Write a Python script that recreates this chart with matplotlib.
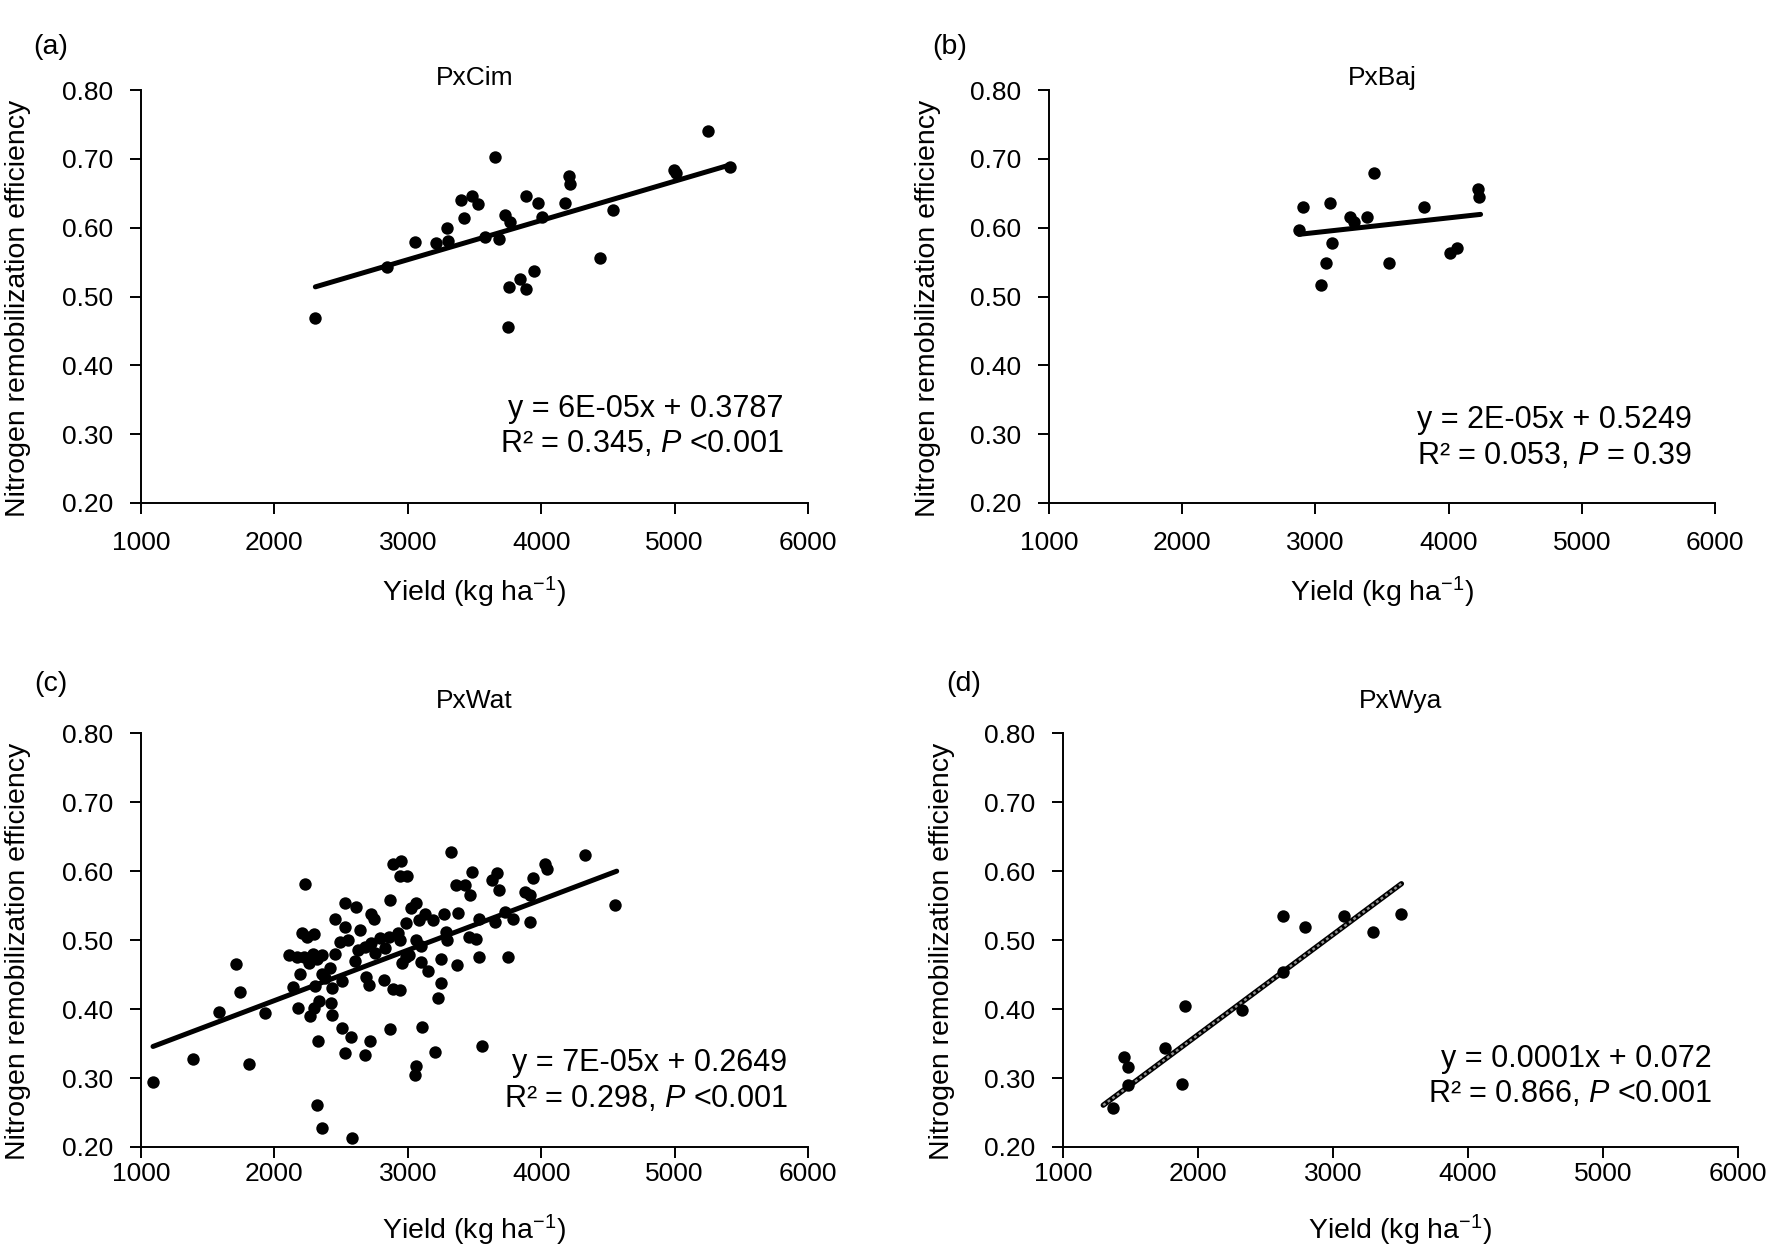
import matplotlib
matplotlib.use('Agg')
import matplotlib.pyplot as plt
import numpy as np

plt.rcParams['font.family'] = ['Liberation Sans', 'DejaVu Sans']
plt.rcParams['mathtext.fontset'] = 'custom'
plt.rcParams['mathtext.rm'] = 'Liberation Sans'
plt.rcParams['mathtext.it'] = 'Liberation Sans:italic'

# ---------------- data ----------------
panel_letters = ['(a)', '(b)', '(c)', '(d)']
panel_titles = ['PxCim', 'PxBaj', 'PxWat', 'PxWya']

cim_x = [2307, 2843, 3051, 3212, 3292, 3299, 3399, 3423, 3480, 3523, 3580, 3651,
         3681, 3728, 3768, 3761, 3748, 3842, 3885, 3885, 3949, 3979, 4006, 4180,
         4207, 4214, 4442, 4535, 4994, 5008, 5253, 5413]
cim_y = [0.469, 0.543, 0.579, 0.577, 0.600, 0.580, 0.640, 0.614, 0.646, 0.635, 0.586, 0.702,
         0.583, 0.619, 0.608, 0.514, 0.456, 0.525, 0.511, 0.646, 0.537, 0.636, 0.615, 0.636,
         0.675, 0.663, 0.556, 0.626, 0.684, 0.679, 0.741, 0.688]

baj_x = [2877, 2907, 3108, 3128, 3077, 3044, 3258, 3288, 3388, 3441, 3552, 3819,
         4013, 4060, 4223, 4227]
baj_y = [0.597, 0.630, 0.636, 0.577, 0.548, 0.517, 0.615, 0.608, 0.615, 0.679, 0.548, 0.630,
         0.563, 0.571, 0.656, 0.644]

wat_x = [1090, 1389, 1583, 1710, 1741, 1811, 1928, 2106, 2143, 2180, 2190, 2233,
         2206, 2247, 2300, 2223, 2263, 2290, 2320, 2354, 2270, 2297, 2337, 2303,
         2354, 2414, 2431, 2427, 2434, 2324, 2320, 2357, 2585, 2458, 2458, 2491,
         2505, 2505, 2531, 2528, 2551, 2571, 2531, 2615, 2639, 2625, 2605, 2682,
         2716, 2686, 2709, 2726, 2746, 2726, 2753, 2789, 2819, 2826, 2866, 2866,
         2890, 2886, 2940, 2950, 2943, 2997, 2923, 2940, 2957, 2983, 3010, 2987,
         3024, 3058, 3058, 3084, 3101, 3101, 3061, 3051, 3108, 3128, 3191, 3202,
         3228, 3252, 3252, 3272, 3289, 3295, 3325, 3359, 3426, 3379, 3369, 3463,
         3479, 3456, 3510, 3533, 3533, 3553, 3630, 3671, 3687, 3651, 3731, 3754,
         3791, 3881, 3915, 3918, 3938, 4032, 4042, 4331, 4555, 2170, 2380, 2680,
         2860, 3150]
wat_y = [0.294, 0.327, 0.395, 0.465, 0.424, 0.321, 0.394, 0.478, 0.432, 0.401, 0.451, 0.581,
         0.510, 0.504, 0.509, 0.476, 0.466, 0.479, 0.473, 0.478, 0.390, 0.402, 0.412, 0.434,
         0.451, 0.459, 0.431, 0.408, 0.391, 0.353, 0.261, 0.228, 0.213, 0.479, 0.530, 0.497,
         0.441, 0.373, 0.554, 0.519, 0.500, 0.360, 0.336, 0.548, 0.514, 0.486, 0.470, 0.334,
         0.353, 0.446, 0.435, 0.538, 0.530, 0.495, 0.481, 0.503, 0.442, 0.488, 0.558, 0.371,
         0.610, 0.429, 0.427, 0.614, 0.593, 0.593, 0.510, 0.500, 0.466, 0.475, 0.478, 0.524,
         0.546, 0.553, 0.500, 0.529, 0.492, 0.468, 0.317, 0.304, 0.374, 0.538, 0.529, 0.337,
         0.416, 0.438, 0.473, 0.537, 0.512, 0.500, 0.628, 0.580, 0.579, 0.539, 0.464, 0.565,
         0.598, 0.505, 0.501, 0.531, 0.475, 0.347, 0.587, 0.597, 0.573, 0.526, 0.541, 0.475,
         0.531, 0.570, 0.565, 0.526, 0.590, 0.610, 0.603, 0.623, 0.551, 0.476, 0.445, 0.490,
         0.505, 0.455]

wya_x = [1372, 1455, 1482, 1482, 1753, 1884, 1907, 2329, 2630, 2630, 2794, 3078, 3296, 3504]
wya_y = [0.257, 0.331, 0.316, 0.290, 0.344, 0.291, 0.404, 0.399, 0.535, 0.453, 0.519, 0.535,
         0.511, 0.537]

# trend lines (slope, intercept, x-range)
fit_slope = [5.7e-5, 2.13e-5, 7.31e-5, 1.453e-4]
fit_intercept = [0.3825, 0.529, 0.266, 0.072]
fit_xmin = [2307, 2877, 1090, 1298]
fit_xmax = [5413, 4240, 4566, 3507]

eq_line1 = ['y = 6E-05x + 0.3787', 'y = 2E-05x + 0.5249',
            'y = 7E-05x + 0.2649', 'y = 0.0001x + 0.072']
eq_line2 = [r'R² = 0.345, $\mathit{P}$ <0.001', r'R² = 0.053, $\mathit{P}$ = 0.39',
            r'R² = 0.298, $\mathit{P}$ <0.001', r'R² = 0.866, $\mathit{P}$ <0.001']

x_ticks = [1000, 2000, 3000, 4000, 5000, 6000]
y_ticks = [0.20, 0.30, 0.40, 0.50, 0.60, 0.70, 0.80]

xs = [cim_x, baj_x, wat_x, wya_x]
ys = [cim_y, baj_y, wat_y, wya_y]

# ---------------- layout ----------------
W, H = 1773, 1249
fig = plt.figure(figsize=(W / 100, H / 100), dpi=100)

# axes boxes in pixels: left, right, top, bottom
boxes = [(141, 808, 90, 503), (1049, 1715, 90, 503),
         (141, 808, 733, 1147), (1063, 1738, 733, 1147)]
eq_pos = [(0.963, 0.227, 0.142), (0.966, 0.200, 0.115),
          (0.969, 0.202, 0.117), (0.961, 0.213, 0.128)]
ylab_x = [-0.165, -0.162, -0.165, -0.160]
xtick_pad = [12, 12, 3, 3]
xlab_y = [-0.175, -0.175, -0.16, -0.16]
title_pad = [3, 3, 18, 18]
letter_pos = [(51, 47), (950, 47), (51, 684), (964, 684)]

FS_TICK = 19
FS_LAB = 20.5
FS_EQ = 22

for i in range(4):
    l, r, t, b = boxes[i]
    ax = fig.add_axes([l / W, 1 - b / H, (r - l) / W, (b - t) / H])
    ax.scatter(xs[i], ys[i], s=80, color='black', zorder=3, linewidths=0)
    xl = np.array([fit_xmin[i], fit_xmax[i]])
    yl = fit_slope[i] * xl + fit_intercept[i]
    if i == 3:
        ax.plot(xl, yl, color='black', lw=3.8, solid_capstyle='round', zorder=2)
        ax.plot(xl, yl, color='#909090', lw=1.7, ls=(0, (1.2, 1.2)), zorder=2.5)
    else:
        ax.plot(xl, yl, color='black', lw=3.6, solid_capstyle='round', zorder=2)

    ax.set_xlim(1000, 6000)
    ax.set_ylim(0.20, 0.80)
    ax.set_xticks(x_ticks)
    ax.set_yticks(y_ticks)
    ax.set_yticklabels([f'{v:.2f}' for v in y_ticks])
    ax.set_xticklabels([str(v) for v in x_ticks])
    for s in ['top', 'right']:
        ax.spines[s].set_visible(False)
    for s in ['left', 'bottom']:
        ax.spines[s].set_linewidth(1.4)
    ax.tick_params(direction='out', length=8, width=1.4, labelsize=FS_TICK)
    ax.tick_params(axis='x', pad=xtick_pad[i])
    ax.tick_params(axis='y', pad=12)

    ax.set_xlabel(r'Yield (kg ha$^{\mathregular{-1}}$)', fontsize=FS_LAB)
    ax.xaxis.set_label_coords(0.5, xlab_y[i])
    ax.set_ylabel('Nitrogen remobilization efficiency', fontsize=FS_LAB)
    ax.yaxis.set_label_coords(ylab_x[i], 0.472)
    ax.set_title(panel_titles[i], fontsize=FS_TICK, pad=title_pad[i])

    ex, ey1, ey2 = eq_pos[i]
    ax.text(ex, ey1, eq_line1[i], transform=ax.transAxes, ha='right', va='center',
            fontsize=FS_EQ)
    ax.text(ex, ey2, eq_line2[i], transform=ax.transAxes, ha='right', va='center',
            fontsize=FS_EQ)

    lx, ly = letter_pos[i]
    fig.text(lx / W, 1 - ly / H, panel_letters[i], ha='center', va='center',
             fontsize=FS_LAB)

fig.savefig('out.png', dpi=100, facecolor='white')
